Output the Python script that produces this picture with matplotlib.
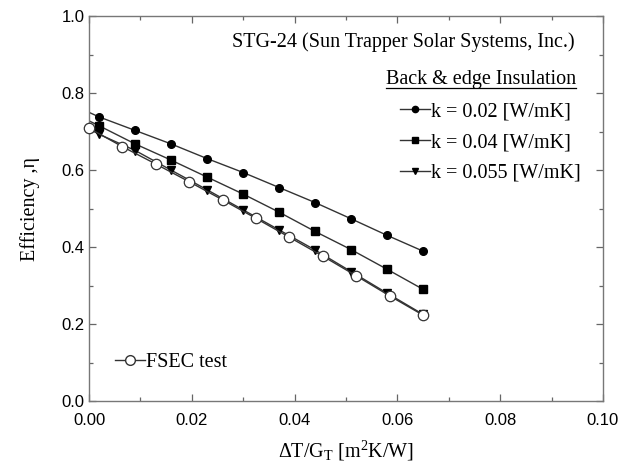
import matplotlib
matplotlib.use('Agg')
import matplotlib.pyplot as plt
from matplotlib.lines import Line2D
from matplotlib.ticker import MultipleLocator

# datos
x_k = [0.002, 0.009, 0.016, 0.023, 0.030, 0.037, 0.044, 0.051, 0.058, 0.065]
eta_k002 = [0.738, 0.703, 0.668, 0.630, 0.594, 0.555, 0.516, 0.474, 0.431, 0.390]
eta_k004 = [0.715, 0.668, 0.626, 0.582, 0.538, 0.491, 0.441, 0.394, 0.343, 0.291]
eta_k0055 = [0.693, 0.651, 0.600, 0.549, 0.497, 0.445, 0.393, 0.337, 0.281, 0.226]
# valor de cada recta en el eje (x = 0)
eta_inicio = [0.750, 0.728, 0.707]

x_fsec = [0.0, 0.0065, 0.013, 0.0195, 0.026, 0.0325, 0.039, 0.0455, 0.052, 0.0585, 0.065]
eta_fsec = [0.709, 0.661, 0.616, 0.570, 0.523, 0.475, 0.426, 0.377, 0.326, 0.274, 0.224]

etiquetas = ['k = 0.02 [W/mK]', 'k = 0.04 [W/mK]', 'k = 0.055 [W/mK]']
marcadores = ['o', 's', 'v']
tamanos = [5.5, 6, 6]

serif = 'Liberation Serif'
plt.rcParams['font.family'] = 'Liberation Sans'
plt.rcParams['mathtext.fontset'] = 'custom'
plt.rcParams['mathtext.rm'] = serif
plt.rcParams['mathtext.it'] = serif + ':italic'
fs = 14.5

fig = plt.figure(figsize=(6.3, 4.72), dpi=100)
ax = fig.add_axes([0.1413, 0.1494, 0.8157, 0.8167])

color_linea = '#333333'
handles = []
for serie, y0, m, ms in zip([eta_k002, eta_k004, eta_k0055], eta_inicio, marcadores, tamanos):
    ax.plot([0.0] + x_k, [y0] + serie, color=color_linea, lw=1.0, zorder=2)
    ax.plot(x_k, serie, linestyle='none', marker=m, ms=ms, color='black', zorder=3)
    handles.append(Line2D([], [], color=color_linea, lw=1.0, marker=m, ms=ms - 1,
                          markerfacecolor='black', markeredgecolor='black'))

ax.plot(x_fsec, eta_fsec, color=color_linea, lw=1.0, marker='o', ms=7.5,
        markerfacecolor='white', markeredgecolor='#333333', markeredgewidth=0.9,
        zorder=4, clip_on=False)

ax.set_xlim(0, 0.10)
ax.set_ylim(0, 1.0)
ax.xaxis.set_major_locator(MultipleLocator(0.02))
ax.xaxis.set_minor_locator(MultipleLocator(0.01))
ax.yaxis.set_major_locator(MultipleLocator(0.2))
ax.yaxis.set_minor_locator(MultipleLocator(0.1))
ax.xaxis.set_major_formatter(matplotlib.ticker.FormatStrFormatter('%.2f'))
ax.yaxis.set_major_formatter(matplotlib.ticker.FormatStrFormatter('%.1f'))
ax.tick_params(which='both', direction='in', top=True, right=True,
               color='#666666', labelsize=12)
ax.tick_params(axis='x', which='major', pad=8)
ax.tick_params(axis='y', which='major', pad=3)
ax.tick_params(which='major', length=5, width=0.9)
ax.tick_params(which='minor', length=3, width=0.9)
for s in ax.spines.values():
    s.set_color('#777777')
    s.set_linewidth(1.0)

ax.set_xlabel(r'$\Delta$T/G$_\mathrm{T}$ [m$^\mathrm{2}$K/W]', family=serif, fontsize=fs, labelpad=8)
ax.set_ylabel('Efficiency ,η', family=serif, fontsize=fs, labelpad=16)

ax.text(0.945, 0.933, 'STG-24 (Sun Trapper Solar Systems, Inc.)', transform=ax.transAxes,
        ha='right', va='center', family=serif, fontsize=fs)
titulo = ax.text(0.948, 0.836, 'Back & edge Insulation', transform=ax.transAxes,
                 ha='right', va='center', family=serif, fontsize=fs)

leg = ax.legend(handles, etiquetas, loc='upper left', bbox_to_anchor=(0.59, 0.797),
                frameon=False, handlelength=1.5, handletextpad=0.05,
                labelspacing=0.58, borderaxespad=0,
                prop={'family': serif, 'size': fs})
ax.add_artist(leg)

h_fsec = Line2D([], [], color=color_linea, lw=1.0, marker='o', ms=7,
                markerfacecolor='white', markeredgecolor='#333333')
ax.legend([h_fsec], ['FSEC test'], loc='center left', bbox_to_anchor=(0.035, 0.1),
          frameon=False, handlelength=1.5, handletextpad=0.05, borderaxespad=0,
          prop={'family': serif, 'size': fs})

# subrayado del titulo de la leyenda
fig.canvas.draw()
bb = titulo.get_window_extent()
inv = fig.transFigure.inverted()
(x1, y1), (x2, _) = inv.transform([(bb.x0, bb.y0 + 1), (bb.x1, bb.y0 + 1)])
fig.add_artist(Line2D([x1, x2], [y1, y1], color='black', lw=0.9))

fig.savefig('out.png', dpi=100)
plt.close(fig)
